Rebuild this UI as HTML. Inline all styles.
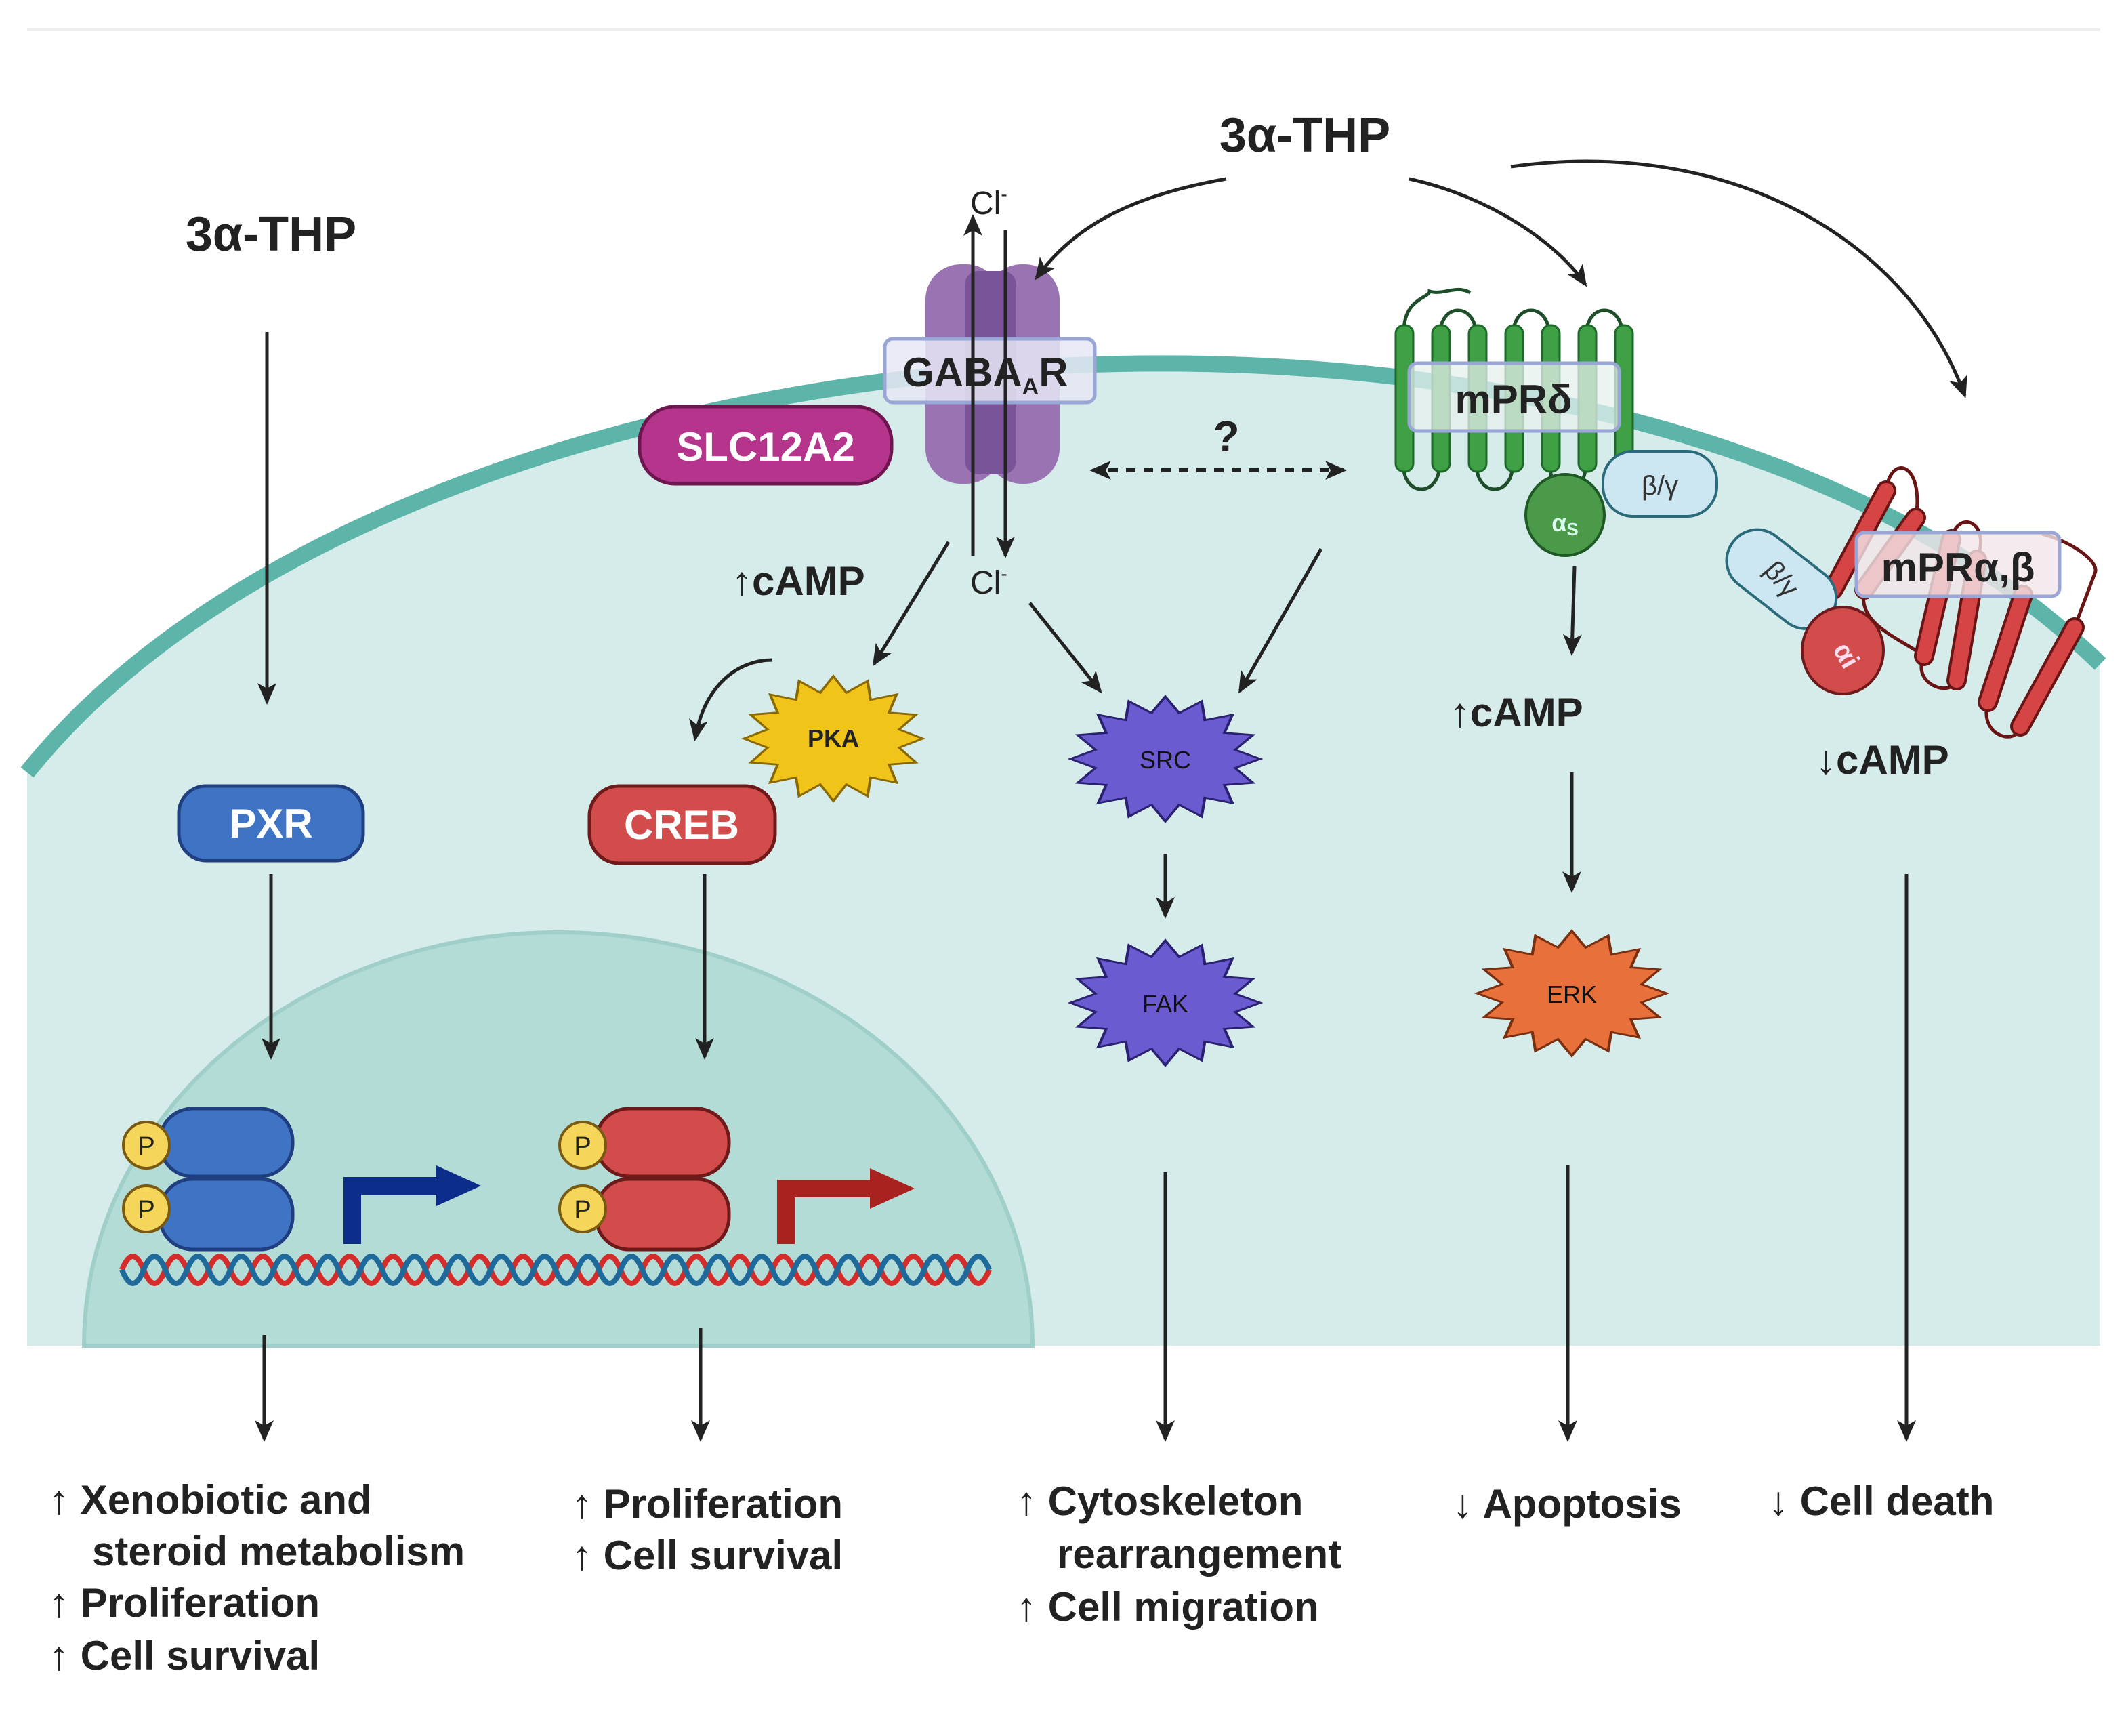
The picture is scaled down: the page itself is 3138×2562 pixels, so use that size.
<!DOCTYPE html>
<html><head><meta charset="utf-8"><style>
html,body{margin:0;padding:0;background:#fff;}
svg{display:block;}
text{font-family:"Liberation Sans",sans-serif;}
</style></head><body>
<svg width="3138" height="2562" viewBox="0 0 1569 1281" xmlns="http://www.w3.org/2000/svg">
<defs>
<marker id="ah" markerWidth="16" markerHeight="14" refX="14" refY="7" orient="auto" markerUnits="userSpaceOnUse">
<path d="M0,0 L16,7 L0,14 L4,7 Z" fill="#222"/></marker>
<marker id="ahs" markerWidth="16" markerHeight="14" refX="2" refY="7" orient="auto-start-reverse" markerUnits="userSpaceOnUse">
<path d="M0,0 L16,7 L0,14 L4,7 Z" fill="#222"/></marker>
<polygon id="star" points="1,0 .736,.146 .924,.383 .623,.417 .707,.707 .417,.623 .383,.924 .146,.736 0,1 -.146,.736 -.383,.924 -.417,.623 -.707,.707 -.623,.417 -.924,.383 -.736,.146 -1,0 -.736,-.146 -.924,-.383 -.623,-.417 -.707,-.707 -.417,-.623 -.383,-.924 -.146,-.736 0,-1 .146,-.736 .383,-.924 .417,-.623 .707,-.707 .623,-.417 .924,-.383 .736,-.146"/>
</defs>
<rect width="1569" height="1281" fill="#fff"/>
<line x1="20" y1="22" x2="1550" y2="22" stroke="#eee" stroke-width="2"/>
<!-- cell -->
<path d="M20 570 C 300 220, 1200 150, 1550 490 L1550 993 L20 993 Z" fill="#d6ecea"/>
<path d="M20 570 C 300 220, 1200 150, 1550 490" fill="none" stroke="#5cb5a8" stroke-width="12"/>
<!-- nucleus -->
<path d="M62 993 A350 305 0 0 1 762 993 Z" fill="#b4dcd7" stroke="#a0cfca" stroke-width="3"/>

<!-- DNA -->
<path d="M90 937 q8 -20 16 0 t16 0 t16 0 t16 0 t16 0 t16 0 t16 0 t16 0 t16 0 t16 0 t16 0 t16 0 t16 0 t16 0 t16 0 t16 0 t16 0 t16 0 t16 0 t16 0 t16 0 t16 0 t16 0 t16 0 t16 0 t16 0 t16 0 t16 0 t16 0 t16 0 t16 0 t16 0 t16 0 t16 0 t16 0 t16 0 t16 0 t16 0 t16 0 t16 0" fill="none" stroke="#d62b2b" stroke-width="4"/>
<path d="M90 937 q8 20 16 0 t16 0 t16 0 t16 0 t16 0 t16 0 t16 0 t16 0 t16 0 t16 0 t16 0 t16 0 t16 0 t16 0 t16 0 t16 0 t16 0 t16 0 t16 0 t16 0 t16 0 t16 0 t16 0 t16 0 t16 0 t16 0 t16 0 t16 0 t16 0 t16 0 t16 0 t16 0 t16 0 t16 0 t16 0 t16 0 t16 0 t16 0 t16 0 t16 0" fill="none" stroke="#1f6a9a" stroke-width="4"/>

<!-- PXR dimer -->
<rect x="118" y="818" width="98" height="50" rx="24" fill="#3f74c4" stroke="#1f3f80" stroke-width="2.5"/>
<rect x="118" y="870" width="98" height="52" rx="24" fill="#3f74c4" stroke="#1f3f80" stroke-width="2.5"/>
<circle cx="108" cy="845" r="17" fill="#f5d65a" stroke="#7a5a10" stroke-width="2"/>
<circle cx="108" cy="892" r="17" fill="#f5d65a" stroke="#7a5a10" stroke-width="2"/>
<text x="108" y="852" font-size="19" text-anchor="middle" fill="#222">P</text>
<text x="108" y="899" font-size="19" text-anchor="middle" fill="#222">P</text>
<path d="M260 918 L260 875 L325 875" fill="none" stroke="#0d2d8a" stroke-width="13" stroke-linejoin="miter"/>
<path d="M322 860 L355 875 L322 890 Z" fill="#0d2d8a"/>
<!-- CREB dimer -->
<rect x="440" y="818" width="98" height="50" rx="24" fill="#d24c4c" stroke="#6e1a1a" stroke-width="2.5"/>
<rect x="440" y="870" width="98" height="52" rx="24" fill="#d24c4c" stroke="#6e1a1a" stroke-width="2.5"/>
<circle cx="430" cy="845" r="17" fill="#f5d65a" stroke="#7a5a10" stroke-width="2"/>
<circle cx="430" cy="892" r="17" fill="#f5d65a" stroke="#7a5a10" stroke-width="2"/>
<text x="430" y="852" font-size="19" text-anchor="middle" fill="#222">P</text>
<text x="430" y="899" font-size="19" text-anchor="middle" fill="#222">P</text>
<path d="M580 918 L580 877 L645 877" fill="none" stroke="#a8221f" stroke-width="13"/>
<path d="M642 862 L675 877 L642 892 Z" fill="#a8221f"/>

<!-- pills -->
<rect x="132" y="580" width="136" height="55" rx="20" fill="#3f74c4" stroke="#1f3f80" stroke-width="2.5"/>
<text x="200" y="618" font-size="30" font-weight="bold" fill="#fff" text-anchor="middle">PXR</text>
<rect x="435" y="580" width="137" height="57" rx="22" fill="#d24c4c" stroke="#6e1a1a" stroke-width="2.5"/>
<text x="503" y="619" font-size="30" font-weight="bold" fill="#fff" text-anchor="middle">CREB</text>
<rect x="472" y="300" width="186" height="57" rx="26" fill="#b5348c" stroke="#6e1650" stroke-width="2.5"/>
<text x="565" y="340" font-size="30" font-weight="bold" fill="#fff" text-anchor="middle">SLC12A2</text>

<!-- GABAAR -->
<rect x="683" y="195" width="56" height="162" rx="26" fill="#9a73b3"/>
<rect x="728" y="195" width="54" height="162" rx="26" fill="#9a73b3"/>
<rect x="712" y="200" width="38" height="150" rx="10" fill="#7a5499"/>
<rect x="653" y="250" width="155" height="47" rx="6" fill="#e6e8f5" fill-opacity="0.85" stroke="#9aa6d6" stroke-width="2.5"/>
<text x="666" y="285" font-size="30" font-weight="bold" fill="#222">GABA<tspan font-size="17" dy="6">A</tspan><tspan dy="-6">R</tspan></text>
<line x1="718" y1="410" x2="718" y2="160" stroke="#222" stroke-width="2.5" marker-end="url(#ah)"/>
<line x1="742" y1="170" x2="742" y2="410" stroke="#222" stroke-width="2.5" marker-end="url(#ah)"/>
<text x="716" y="158" font-size="24" fill="#222">Cl<tspan font-size="14" dy="-10">-</tspan></text>
<text x="716" y="438" font-size="24" fill="#222">Cl<tspan font-size="14" dy="-10">-</tspan></text>

<!-- mPRdelta -->
<g stroke="#1e4d2a" stroke-width="2.5" fill="none">
<path d="M1036 245 C1036 220, 1055 220, 1055 215 C1065 218, 1075 210, 1085 216"/>
<path d="M1063 245 A13 16 0 0 1 1089 245"/>
<path d="M1117 245 A13 16 0 0 1 1143 245"/>
<path d="M1171 245 A13 16 0 0 1 1197 245"/>
<path d="M1036 345 A13 16 0 0 0 1062 345"/>
<path d="M1090 345 A13 16 0 0 0 1116 345"/>
<path d="M1144 345 A13 16 0 0 0 1170 345"/>
</g>
<g fill="#3fa046" stroke="#1e6a2a" stroke-width="1.5">
<rect x="1030" y="240" width="13" height="108" rx="6"/>
<rect x="1057" y="240" width="13" height="108" rx="6"/>
<rect x="1084" y="240" width="13" height="108" rx="6"/>
<rect x="1111" y="240" width="13" height="108" rx="6"/>
<rect x="1138" y="240" width="13" height="108" rx="6"/>
<rect x="1165" y="240" width="13" height="108" rx="6"/>
<rect x="1192" y="240" width="13" height="108" rx="6"/>
</g>
<rect x="1040" y="268" width="155" height="50" rx="6" fill="#e6f0ee" fill-opacity="0.75" stroke="#9aa6d6" stroke-width="2.5"/>
<text x="1117" y="305" font-size="30" font-weight="bold" fill="#222" text-anchor="middle">mPRδ</text>
<rect x="1183" y="333" width="84" height="48" rx="22" fill="#cce6f2" stroke="#2a6a7a" stroke-width="2"/>
<text x="1225" y="365" font-size="20" fill="#333" text-anchor="middle">β/γ</text>
<ellipse cx="1155" cy="380" rx="29" ry="30" fill="#4a9a4a" stroke="#1e5a25" stroke-width="2"/>
<text x="1155" y="392" font-size="18" font-weight="bold" fill="#dfe" text-anchor="middle">α<tspan font-size="13" dy="3">S</tspan></text>

<!-- mPR alpha beta -->
<g stroke="#6a1515" stroke-width="2.5" fill="none">
<path d="M1392 362 C1395 335, 1420 340, 1414 382"/>
<path d="M1440 398 C1445 375, 1470 385, 1459 413"/>
<path d="M1376 435 C1370 460, 1400 470, 1420 484"/>
<path d="M1420 484 C1410 505, 1440 515, 1444 502"/>
<path d="M1467 518 C1460 545, 1490 550, 1491 536"/>
<path d="M1507 394 C1530 400, 1550 415, 1546 423 L1531 463"/>
</g>
<g stroke="#6a1515" stroke-width="15" stroke-linecap="round">
<line x1="1353" y1="435" x2="1392" y2="362"/><line x1="1376" y1="435" x2="1414" y2="382"/>
<line x1="1420" y1="484" x2="1440" y2="398"/><line x1="1444" y1="502" x2="1459" y2="413"/>
<line x1="1467" y1="518" x2="1493" y2="439"/><line x1="1491" y1="536" x2="1531" y2="463"/>
</g>
<g stroke="#d64545" stroke-width="11" stroke-linecap="round">
<line x1="1353" y1="435" x2="1392" y2="362"/><line x1="1376" y1="435" x2="1414" y2="382"/>
<line x1="1420" y1="484" x2="1440" y2="398"/><line x1="1444" y1="502" x2="1459" y2="413"/>
<line x1="1467" y1="518" x2="1493" y2="439"/><line x1="1491" y1="536" x2="1531" y2="463"/>
</g>
<rect x="1270" y="405" width="90" height="45" rx="22" transform="rotate(38 1315 427)" fill="#cce6f2" stroke="#2a6a7a" stroke-width="2"/>
<text x="1315" y="434" font-size="20" fill="#333" text-anchor="middle" transform="rotate(50 1315 427)">β/γ</text>
<rect x="1370" y="393" width="150" height="47" rx="6" fill="#f3e6ea" fill-opacity="0.8" stroke="#9aa6d6" stroke-width="2.5"/>
<text x="1445" y="429" font-size="30" font-weight="bold" fill="#222" text-anchor="middle">mPRα,β</text>
<ellipse cx="1360" cy="480" rx="30" ry="32" fill="#d24c4c" stroke="#6e1a1a" stroke-width="2"/>
<text x="1362" y="490" font-size="20" font-weight="bold" fill="#fde" text-anchor="middle" transform="rotate(60 1362 484)">αi</text>

<!-- stars -->
<use href="#star" transform="translate(615,545) scale(66,46)" fill="#f0c419" stroke="#8a6a00" stroke-width="0.03"/>
<text x="615" y="551" font-size="18" font-weight="bold" fill="#222" text-anchor="middle">PKA</text>
<use href="#star" transform="translate(860,560) scale(70,46)" fill="#6a5cd0" stroke="#2a2270" stroke-width="0.03"/>
<text x="860" y="567" font-size="18" fill="#111" text-anchor="middle">SRC</text>
<use href="#star" transform="translate(860,740) scale(70,46)" fill="#6a5cd0" stroke="#2a2270" stroke-width="0.03"/>
<text x="860" y="747" font-size="18" fill="#111" text-anchor="middle">FAK</text>
<use href="#star" transform="translate(1160,733) scale(70,46)" fill="#e8703a" stroke="#7a3010" stroke-width="0.03"/>
<text x="1160" y="740" font-size="18" fill="#111" text-anchor="middle">ERK</text>

<!-- arrows -->
<g stroke="#222" stroke-width="2.5" fill="none" marker-end="url(#ah)">
<line x1="197" y1="245" x2="197" y2="518"/>
<line x1="200" y1="645" x2="200" y2="780"/>
<line x1="520" y1="645" x2="520" y2="780"/>
<line x1="195" y1="985" x2="195" y2="1062"/>
<line x1="517" y1="980" x2="517" y2="1062"/>
<line x1="860" y1="865" x2="860" y2="1062"/>
<line x1="1157" y1="860" x2="1157" y2="1062"/>
<line x1="1407" y1="645" x2="1407" y2="1062"/>
<line x1="860" y1="630" x2="860" y2="676"/>
<line x1="1162" y1="418" x2="1160" y2="482"/>
<line x1="1160" y1="570" x2="1160" y2="657"/>
<line x1="700" y1="400" x2="645" y2="490"/>
<line x1="760" y1="445" x2="812" y2="510"/>
<line x1="975" y1="405" x2="915" y2="510"/>
<path d="M570 487 C545 487, 520 505, 513 545"/>
<path d="M905 132 C830 145, 790 170, 765 205"/>
<path d="M1040 132 C1100 145, 1150 180, 1170 210"/>
<path d="M1115 123 C1280 100, 1410 180, 1450 292"/>
</g>
<line x1="818" y1="347" x2="992" y2="347" stroke="#222" stroke-width="3" stroke-dasharray="7,6" marker-start="url(#ahs)" marker-end="url(#ah)"/>
<text x="905" y="333" font-size="32" font-weight="bold" fill="#222" text-anchor="middle">?</text>

<!-- labels -->
<text x="200" y="185" font-size="36" font-weight="bold" fill="#222" text-anchor="middle">3α-THP</text>
<text x="963" y="112" font-size="36" font-weight="bold" fill="#222" text-anchor="middle">3α-THP</text>
<g font-size="30" font-weight="bold" fill="#222">
<text x="540" y="439">↑cAMP</text>
<text x="1070" y="536">↑cAMP</text>
<text x="1340" y="571">↓cAMP</text>
<text x="36" y="1117">↑ Xenobiotic and</text>
<text x="68" y="1155">steroid metabolism</text>
<text x="36" y="1193">↑ Proliferation</text>
<text x="36" y="1232">↑ Cell survival</text>
<text x="422" y="1120">↑ Proliferation</text>
<text x="422" y="1158">↑ Cell survival</text>
<text x="750" y="1118">↑ Cytoskeleton</text>
<text x="780" y="1157">rearrangement</text>
<text x="750" y="1196">↑ Cell migration</text>
<text x="1072" y="1120">↓ Apoptosis</text>
<text x="1305" y="1118">↓ Cell death</text>
</g>
</svg>
</body></html>
